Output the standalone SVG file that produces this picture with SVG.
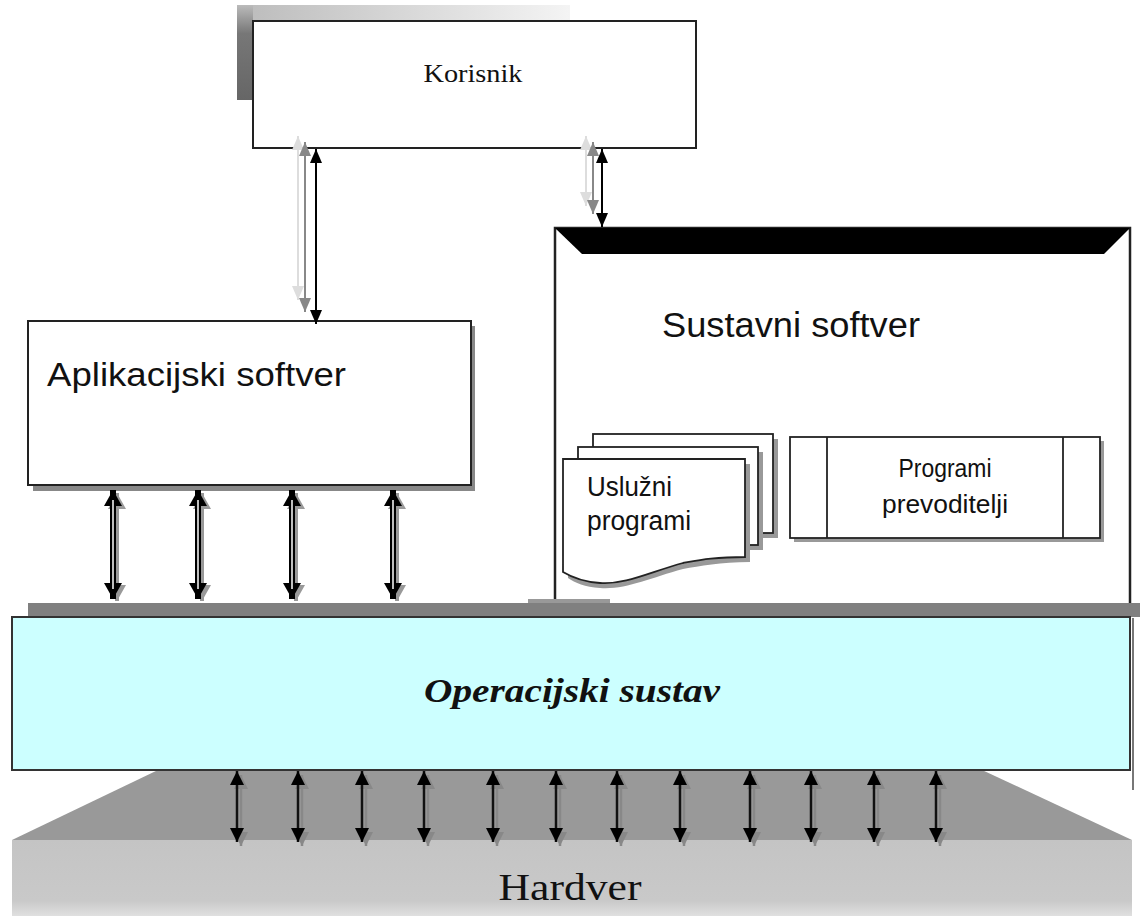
<svg xmlns="http://www.w3.org/2000/svg" width="1145" height="921" viewBox="0 0 1145 921">
<style>
.box{fill:#fff;stroke:#222;stroke-width:2}
.sans{font-family:"Liberation Sans",Arial,sans-serif;fill:#111}
.serif{font-family:"Liberation Serif","Times New Roman",serif;fill:#111}
.thin{stroke:#000;stroke-width:2;fill:none}
.page{fill:#fff;stroke:#222;stroke-width:1.8}
.pagesh{fill:#999}
.hw{stroke:#111;stroke-width:2.5;fill:none;marker-start:url(#ahS);marker-end:url(#ahS)}
.hwsh{stroke:#888;stroke-width:2.5;fill:none;marker-start:url(#ahG);marker-end:url(#ahG)}
</style>
<defs>
<marker id="ahS" viewBox="0 0 14 14" refX="14" refY="7" markerWidth="14" markerHeight="14" markerUnits="userSpaceOnUse" orient="auto-start-reverse"><path d="M0,0 L14,7 L0,14 z" fill="#000"/></marker>
<marker id="ahG" viewBox="0 0 14 14" refX="14" refY="7" markerWidth="14" markerHeight="14" markerUnits="userSpaceOnUse" orient="auto-start-reverse"><path d="M0,0 L14,7 L0,14 z" fill="#888"/></marker>
<marker id="ahK" viewBox="0 0 14 12" refX="14" refY="6" markerWidth="14" markerHeight="12" markerUnits="userSpaceOnUse" orient="auto-start-reverse"><path d="M0,0 L14,6 L0,12 z" fill="#000"/></marker>
<marker id="ahK2" viewBox="0 0 14 12" refX="14" refY="6" markerWidth="14" markerHeight="12" markerUnits="userSpaceOnUse" orient="auto-start-reverse"><path d="M0,0 L14,6 L0,12 z" fill="#888"/></marker>
<marker id="ahK3" viewBox="0 0 14 12" refX="14" refY="6" markerWidth="14" markerHeight="12" markerUnits="userSpaceOnUse" orient="auto-start-reverse"><path d="M0,0 L14,6 L0,12 z" fill="#ddd"/></marker>
<marker id="ahB" viewBox="0 0 16 18" refX="16" refY="9" markerWidth="16" markerHeight="18" markerUnits="userSpaceOnUse" orient="auto-start-reverse"><path d="M0,0 L16,9 L0,18 z" fill="#000"/></marker>
<marker id="ahBG" viewBox="0 0 16 18" refX="16" refY="9" markerWidth="16" markerHeight="18" markerUnits="userSpaceOnUse" orient="auto-start-reverse"><path d="M0,0 L16,9 L0,18 z" fill="#999"/></marker>
<linearGradient id="shTop" x1="0" y1="0" x2="1" y2="0"><stop offset="0" stop-color="#bbb"/><stop offset="1" stop-color="#f4f4f4"/></linearGradient>
<linearGradient id="shLeft" x1="0" y1="0" x2="0" y2="1"><stop offset="0" stop-color="#bbb"/><stop offset="0.3" stop-color="#777"/><stop offset="1" stop-color="#666"/></linearGradient>
<linearGradient id="hwg" x1="0" y1="0" x2="0" y2="1"><stop offset="0" stop-color="#c4c4c4"/><stop offset="0.8" stop-color="#c9c9c9"/><stop offset="1" stop-color="#e0e0e0"/></linearGradient>
</defs>

<g id="hardver">
<polygon points="158,770 982,770 1132,840 12,840" fill="#999"/>
<rect x="12" y="840" width="1120" height="76" fill="url(#hwg)"/>
<text class="serif" x="570" y="900" font-size="38" text-anchor="middle" textLength="143" lengthAdjust="spacingAndGlyphs">Hardver</text>
</g>

<g id="korisnik">
<rect x="237" y="5" width="333" height="16" fill="url(#shTop)"/>
<rect x="237" y="5" width="16" height="95" fill="url(#shLeft)"/>
<rect class="box" x="253" y="21" width="443" height="127"/>
<text class="serif" x="473" y="82" font-size="25" text-anchor="middle" textLength="99" lengthAdjust="spacingAndGlyphs">Korisnik</text>
</g>

<g id="aplikacijski-softver">
<rect x="33" y="326" width="442" height="165" fill="#888"/>
<rect class="box" x="28" y="321" width="443" height="164"/>
<text class="sans" x="47" y="386" font-size="34" textLength="299" lengthAdjust="spacingAndGlyphs">Aplikacijski softver</text>
</g>

<g id="sustavni-softver">
<rect x="555" y="228" width="575" height="380" fill="#fff" stroke="#222" stroke-width="2.5"/>
<polygon points="555,228 1130,228 1104,254 582,254" fill="#000"/>
<text class="sans" x="662" y="337" font-size="35" textLength="258" lengthAdjust="spacingAndGlyphs">Sustavni softver</text>
</g>

<g id="bar">
<rect x="528" y="599" width="82" height="6" fill="#999"/>
<rect x="28" y="603" width="1112" height="14" fill="#808080"/>
</g>

<g id="operacijski-sustav">
<rect x="12" y="617" width="1118" height="153" fill="#ccffff" stroke="#333" stroke-width="2"/>
<line x1="1133" y1="618" x2="1133" y2="790" stroke="#777" stroke-width="2"/>
<text class="serif" x="572" y="702" font-size="33" font-style="italic" font-weight="bold" text-anchor="middle" textLength="296" lengthAdjust="spacingAndGlyphs">Operacijski sustav</text>
</g>

<g id="usluzni-programi">
<rect class="pagesh" x="598" y="439" width="180" height="99"/>
<rect class="page" x="593" y="434" width="180" height="99"/>
<rect class="pagesh" x="583" y="452" width="180" height="98"/>
<rect class="page" x="578" y="447" width="180" height="98"/>
<path d="M568,464 H750 V562 C720,562 700,566 683,569 C650,578 625,590 600,588 C585,587 575,583 568,578 Z" fill="#999"/>
<path class="page" d="M563,459 H745 V557 C715,557 700,560 683,563 C650,572 625,585 600,583 C585,582 573,578 563,572 Z"/>
<text class="sans" x="587" y="496" font-size="27" textLength="85" lengthAdjust="spacingAndGlyphs">Uslužni</text>
<text class="sans" x="587" y="530" font-size="27" textLength="104" lengthAdjust="spacingAndGlyphs">programi</text>
</g>

<g id="programi-prevoditelji">
<rect x="794" y="441" width="310" height="101" fill="#999"/>
<rect x="790" y="437" width="310" height="101" fill="#fff" stroke="#222" stroke-width="1.8"/>
<line x1="827" y1="437" x2="827" y2="538" stroke="#222" stroke-width="1.8"/>
<line x1="1063" y1="437" x2="1063" y2="538" stroke="#222" stroke-width="1.8"/>
<text class="sans" x="945" y="477" font-size="25" text-anchor="middle" textLength="93" lengthAdjust="spacingAndGlyphs">Programi</text>
<text class="sans" x="945" y="513" font-size="25" text-anchor="middle" textLength="126" lengthAdjust="spacingAndGlyphs">prevoditelji</text>
</g>

<g id="connectors">
<line x1="298" y1="136" x2="298" y2="300" stroke="#ddd" stroke-width="2" marker-start="url(#ahK3)" marker-end="url(#ahK3)"/>
<line x1="305" y1="142" x2="305" y2="312" stroke="#888" stroke-width="2" marker-start="url(#ahK2)" marker-end="url(#ahK2)"/>
<line x1="316" y1="149" x2="316" y2="324" class="thin" marker-start="url(#ahK)" marker-end="url(#ahK)"/>
<line x1="586" y1="136" x2="586" y2="206" stroke="#ddd" stroke-width="2" marker-start="url(#ahK3)" marker-end="url(#ahK3)"/>
<line x1="593" y1="142" x2="593" y2="214" stroke="#888" stroke-width="2" marker-start="url(#ahK2)" marker-end="url(#ahK2)"/>
<line x1="602" y1="149" x2="602" y2="227" class="thin" marker-start="url(#ahK)" marker-end="url(#ahK)"/>
<g>
<line x1="117" y1="493" x2="117" y2="601" stroke="#999" stroke-width="4" marker-start="url(#ahBG)" marker-end="url(#ahBG)"/>
<line x1="113" y1="490" x2="113" y2="599" stroke="#000" stroke-width="6" marker-start="url(#ahB)" marker-end="url(#ahB)"/>
<line x1="113" y1="500" x2="113" y2="589" stroke="#fff" stroke-width="1.5"/>
<line x1="202" y1="493" x2="202" y2="601" stroke="#999" stroke-width="4" marker-start="url(#ahBG)" marker-end="url(#ahBG)"/>
<line x1="198" y1="490" x2="198" y2="599" stroke="#000" stroke-width="6" marker-start="url(#ahB)" marker-end="url(#ahB)"/>
<line x1="198" y1="500" x2="198" y2="589" stroke="#fff" stroke-width="1.5"/>
<line x1="296" y1="493" x2="296" y2="601" stroke="#999" stroke-width="4" marker-start="url(#ahBG)" marker-end="url(#ahBG)"/>
<line x1="292" y1="490" x2="292" y2="599" stroke="#000" stroke-width="6" marker-start="url(#ahB)" marker-end="url(#ahB)"/>
<line x1="292" y1="500" x2="292" y2="589" stroke="#fff" stroke-width="1.5"/>
<line x1="397" y1="493" x2="397" y2="601" stroke="#999" stroke-width="4" marker-start="url(#ahBG)" marker-end="url(#ahBG)"/>
<line x1="393" y1="490" x2="393" y2="599" stroke="#000" stroke-width="6" marker-start="url(#ahB)" marker-end="url(#ahB)"/>
<line x1="393" y1="500" x2="393" y2="589" stroke="#fff" stroke-width="1.5"/>
</g>
<g>
<line class="hwsh" x1="241" y1="775" x2="241" y2="846"/><line class="hw" x1="237" y1="771" x2="237" y2="842"/>
<line class="hwsh" x1="302" y1="775" x2="302" y2="846"/><line class="hw" x1="298" y1="771" x2="298" y2="842"/>
<line class="hwsh" x1="366" y1="775" x2="366" y2="846"/><line class="hw" x1="362" y1="771" x2="362" y2="842"/>
<line class="hwsh" x1="428" y1="775" x2="428" y2="846"/><line class="hw" x1="424" y1="771" x2="424" y2="842"/>
<line class="hwsh" x1="497" y1="775" x2="497" y2="846"/><line class="hw" x1="493" y1="771" x2="493" y2="842"/>
<line class="hwsh" x1="560" y1="775" x2="560" y2="846"/><line class="hw" x1="556" y1="771" x2="556" y2="842"/>
<line class="hwsh" x1="621" y1="775" x2="621" y2="846"/><line class="hw" x1="617" y1="771" x2="617" y2="842"/>
<line class="hwsh" x1="684" y1="775" x2="684" y2="846"/><line class="hw" x1="680" y1="771" x2="680" y2="842"/>
<line class="hwsh" x1="754" y1="775" x2="754" y2="846"/><line class="hw" x1="750" y1="771" x2="750" y2="842"/>
<line class="hwsh" x1="815" y1="775" x2="815" y2="846"/><line class="hw" x1="811" y1="771" x2="811" y2="842"/>
<line class="hwsh" x1="878" y1="775" x2="878" y2="846"/><line class="hw" x1="874" y1="771" x2="874" y2="842"/>
<line class="hwsh" x1="940" y1="775" x2="940" y2="846"/><line class="hw" x1="936" y1="771" x2="936" y2="842"/>
</g>
</g>
</svg>
